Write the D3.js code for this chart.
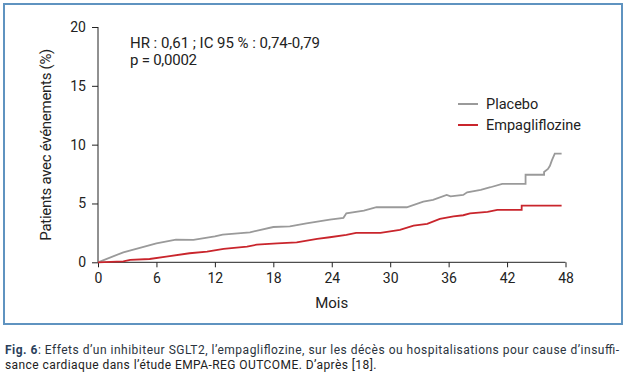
<!DOCTYPE html>
<html>
<head>
<meta charset="utf-8">
<script src="https://cdn.jsdelivr.net/npm/d3@7"></script>
<style>
  body { margin: 0; background: #fff; }
  text { font-family: "Roboto", "DejaVu Sans", sans-serif; fill: #222; }
</style>
</head>
<body>
<svg id="chart" width="625" height="374"></svg>
<script>
var width = 625, height = 374;
var margin = {top: 27, left: 98, right: 59, bottom: 112};

// months / cumulative % of patients with event
var placeboMonths = [0, 2.6, 6, 8, 9.8, 12, 12.8, 15.6, 18, 19.7, 21.4, 23.8, 25.2, 25.5, 27.3, 28.6, 31.7, 33.4, 34.4, 35.8, 36.2, 37.5, 37.9, 39.3, 40.3, 41.5, 43.9, 43.9, 45.8, 45.8, 46.2, 46.4, 46.6, 46.9, 47.6];
var placeboValues = [0, 0.85, 1.6, 1.93, 1.9, 2.2, 2.35, 2.55, 3.0, 3.05, 3.3, 3.63, 3.78, 4.17, 4.4, 4.68, 4.68, 5.16, 5.3, 5.73, 5.6, 5.73, 5.95, 6.16, 6.38, 6.67, 6.67, 7.44, 7.44, 7.68, 7.93, 8.2, 8.66, 9.23, 9.23];

var empaMonths = [0, 2.6, 3.3, 5.3, 7, 9.4, 11.2, 12.9, 15.3, 16.3, 18.4, 20.4, 22.5, 23.8, 25.5, 26.5, 29, 31, 32.4, 33.8, 35.1, 36.5, 37.5, 38.2, 40, 41, 43.5, 43.5, 47.6];
var empaValues = [0, 0.08, 0.2, 0.28, 0.48, 0.77, 0.91, 1.14, 1.34, 1.5, 1.6, 1.7, 2.0, 2.13, 2.33, 2.5, 2.5, 2.75, 3.12, 3.27, 3.69, 3.9, 4.0, 4.15, 4.28, 4.45, 4.45, 4.82, 4.82];

var xTicks = [0, 6, 12, 18, 24, 30, 36, 42, 48];
var yTicks = [0, 5, 10, 15, 20];

var series = [
  {name: "Placebo", color: "#9a9a9a", months: placeboMonths, values: placeboValues},
  {name: "Empagliflozine", color: "#c9252c", months: empaMonths, values: empaValues}
];

var svg = d3.select("#chart");

// frame
svg.append("rect")
  .attr("x", 4).attr("y", 4)
  .attr("width", 618).attr("height", 320)
  .attr("fill", "#fff")
  .attr("stroke", "#5f93c0")
  .attr("stroke-width", 2);

var x = d3.scaleLinear().domain([0, 48]).range([margin.left, width - margin.right - 0.5]);
var y = d3.scaleLinear().domain([0, 20]).range([height - margin.bottom + 0.3, margin.top]);

var g = svg.append("g");

var xAxis = g.append("g")
  .attr("transform", "translate(0," + y(0) + ")")
  .call(d3.axisBottom(x).tickValues(xTicks).tickSize(5).tickPadding(6));
xAxis.select(".domain").attr("d", "M" + x(0) + ",0H" + x(48));

var yAxis = g.append("g")
  .attr("transform", "translate(" + x(0) + ",0)")
  .call(d3.axisLeft(y).tickValues(yTicks).tickSize(6).tickPadding(6));
yAxis.select(".domain").attr("d", "M0," + y(20) + "V" + y(0));

g.selectAll(".tick text").style("font-size", "14px").attr("fill", "#222");
g.selectAll(".domain, .tick line").attr("stroke", "#222");

var line = d3.line()
  .x(function(d) { return x(d[0]); })
  .y(function(d) { return y(d[1]); });

series.forEach(function(s) {
  g.append("path")
    .datum(d3.zip(s.months, s.values))
    .attr("fill", "none")
    .attr("stroke", s.color)
    .attr("stroke-width", 1.8)
    .attr("d", line);
});

// axis titles
svg.append("text")
  .attr("transform", "translate(51," + ((y(0) + y(20)) / 2) + ") rotate(-90)")
  .attr("text-anchor", "middle")
  .style("font-size", "15px")
  .attr("textLength", 192).attr("lengthAdjust", "spacing")
  .text("Patients avec événements (%)");

svg.append("text")
  .attr("x", x(24)).attr("y", 308)
  .attr("text-anchor", "middle")
  .style("font-size", "15px")
  .text("Mois");

// annotation
svg.append("text").attr("x", 130).attr("y", 48).style("font-size", "15px")
  .attr("textLength", 190).attr("lengthAdjust", "spacing")
  .text("HR : 0,61 ; IC 95 % : 0,74-0,79");
svg.append("text").attr("x", 130).attr("y", 65).style("font-size", "15px")
  .attr("textLength", 67).attr("lengthAdjust", "spacing")
  .text("p = 0,0002");

// legend
var legend = svg.append("g").attr("transform", "translate(458,104)");
series.forEach(function(s, i) {
  var row = legend.append("g").attr("transform", "translate(0," + (i * 21) + ")");
  row.append("line").attr("x1", 0).attr("x2", 20).attr("y1", 0).attr("y2", 0)
    .attr("stroke", s.color).attr("stroke-width", 2);
  row.append("text").attr("x", 28).attr("y", 5).style("font-size", "14.5px").text(s.name);
});

// caption (first line justified like the printed figure)
var cap = svg.append("text").attr("x", 5).attr("y", 354).style("font-size", "12px")
  .attr("textLength", 614).attr("lengthAdjust", "spacing").attr("fill", "#2b3440");
cap.append("tspan").style("font-weight", "bold").attr("fill", "#2b3f5c").text("Fig. 6");
cap.append("tspan").attr("fill", "#2b3440").text(": Effets d’un inhibiteur SGLT2, l’empagliflozine, sur les décès ou hospitalisations pour cause d’insuffi-");
svg.append("text").attr("x", 5).attr("y", 369).style("font-size", "12px").style("letter-spacing", "0.42px")
  .attr("fill", "#2b3440")
  .text("sance cardiaque dans l’étude EMPA-REG OUTCOME. D’après [18].");
</script>
</body>
</html>
